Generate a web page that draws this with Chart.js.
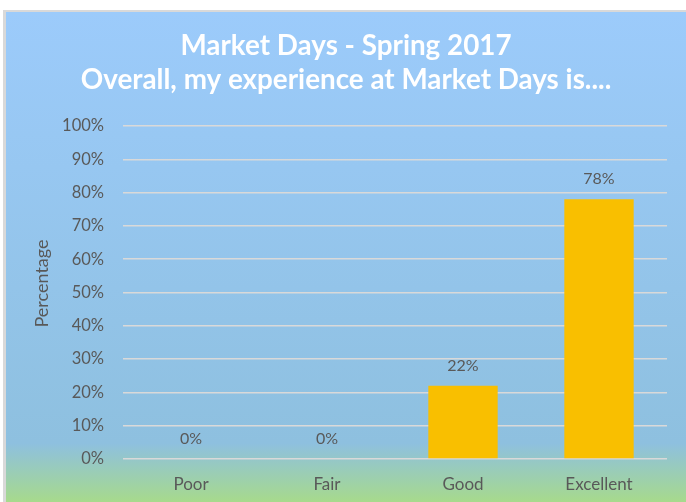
<!DOCTYPE html>
<html>
<head>
<meta charset="utf-8">
<script src="https://cdn.jsdelivr.net/npm/chart.js@4.4.1/dist/chart.umd.min.js"></script>
<style>
  html, body { margin: 0; padding: 0; background: #ffffff; width: 686px; height: 502px; overflow: hidden; }
  #frame {
    position: absolute; left: 3px; top: 10px; width: 683px; height: 492px;
    border-left: 3px solid #d9d9d9; border-top: 2px solid #d9d9d9; box-sizing: border-box;
    background: linear-gradient(to bottom, #9ccbfb 0%, #8ec0df 88%, #a7da8c 100%);
  }
  #wrap { position: absolute; left: 0; top: 0; width: 680px; height: 490px; }
</style>
</head>
<body>
<div id="frame"><div id="wrap"><canvas id="c" width="680" height="490"></canvas></div></div>
<script>
const categories = ["Poor", "Fair", "Good", "Excellent"];
const percentages = [0, 0, 22, 78];
const yTicks = [0, 10, 20, 30, 40, 50, 60, 70, 80, 90, 100];
const titleLines = ["Market Days - Spring 2017", "Overall, my experience at Market Days is...."];
const yAxisTitle = "Percentage";

const FONT = "Lato, 'Open Sans', sans-serif";
const TEXT = "#595959";

const extraText = {
  id: "extraText",
  afterDatasetsDraw(chart) {
    const ctx = chart.ctx;
    const meta = chart.getDatasetMeta(0);
    ctx.save();
    ctx.font = "16px " + FONT;
    ctx.fillStyle = TEXT;
    ctx.textAlign = "center";
    ctx.textBaseline = "middle";
    meta.data.forEach((bar, i) => {
      ctx.fillText(percentages[i] + "%", bar.x, bar.y - 20);
    });
    // y axis title
    const a = chart.chartArea;
    ctx.font = "18px " + FONT;
    ctx.translate(36, (a.top + a.bottom) / 2 - 9);
    ctx.rotate(-Math.PI / 2);
    ctx.fillText(yAxisTitle, 0, 0);
    ctx.restore();
  }
};

new Chart(document.getElementById("c"), {
  type: "bar",
  data: {
    labels: categories,
    datasets: [{
      data: percentages,
      backgroundColor: "#f9bf00",
      borderWidth: 0,
      categoryPercentage: 1,
      barPercentage: 0.51
    }]
  },
  options: {
    responsive: false,
    animation: false,
    layout: { padding: 0 },
    plugins: {
      legend: { display: false },
      tooltip: { enabled: false },
      title: {
        display: true,
        text: titleLines,
        color: "#ffffff",
        font: { family: FONT, size: 27.8, weight: "bold", lineHeight: 34 / 27.8 },
        padding: { top: 17, bottom: 29 }
      }
    },
    scales: {
      x: {
        grid: { display: false, drawTicks: false },
        border: { display: false },
        ticks: { color: TEXT, font: { family: FONT, size: 17, lineHeight: 1.2 }, padding: 15 },
        afterFit(scale) { scale.height = 43; }
      },
      y: {
        min: 0, max: 100,
        afterBuildTicks(scale) { scale.ticks = yTicks.map(v => ({ value: v })); },
        grid: { color: "#d9d9d9", lineWidth: 1.5, drawTicks: false },
        border: { display: false },
        ticks: {
          color: TEXT,
          font: { family: FONT, size: 16.5 },
          padding: 19,
          callback: v => v + "%"
        },
        afterFit(scale) { scale.width = 117; }
      },
      yRight: {
        position: "right",
        display: true,
        min: 0, max: 100,
        grid: { display: false, drawTicks: false },
        border: { display: false },
        ticks: { display: false },
        afterFit(scale) { scale.width = 19; }
      }
    }
  },
  plugins: [extraText]
});
</script>
</body>
</html>
